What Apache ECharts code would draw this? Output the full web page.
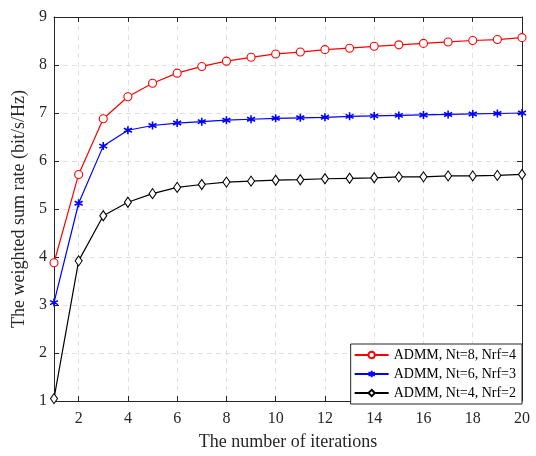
<!DOCTYPE html>
<html>
<head>
<meta charset="utf-8">
<script src="https://cdn.jsdelivr.net/npm/echarts@6/dist/echarts.min.js"></script>
<style>
html,body{margin:0;padding:0;background:#fff;}
#chart{width:536px;height:456px;}
</style>
</head>
<body>
<div id="chart"></div>
<script>
// 迭代次数
let iterations = ['1','2','3','4','5','6','7','8','9','10','11','12','13','14','15','16','17','18','19','20'];
// Nt=8, Nrf=4
let rateA = [3.88,5.72,6.88,7.34,7.62,7.83,7.97,8.08,8.16,8.23,8.27,8.32,8.35,8.39,8.42,8.45,8.48,8.51,8.53,8.57];
// Nt=6, Nrf=3
let rateB = [3.05,5.12,6.31,6.64,6.74,6.79,6.82,6.85,6.87,6.89,6.90,6.91,6.93,6.94,6.95,6.96,6.97,6.98,6.99,7.0];
// Nt=4, Nrf=2
let rateC = [1.05,3.92,4.86,5.14,5.32,5.45,5.51,5.56,5.58,5.60,5.61,5.63,5.64,5.65,5.67,5.67,5.69,5.69,5.70,5.72];
let yTicks = [1,2,3,4,5,6,7,8,9];

let font = "'Liberation Serif','Times New Roman',serif";
let axisColor = '#262626';
let evenIdx = function (index) { return index % 2 === 1; };
let star = 'path://M0,-10L0,10M-8.66,-5L8.66,5M-8.66,5L8.66,-5';

let option = {
    backgroundColor: '#fff',
    animation: false,
    textStyle: {fontFamily: font},
    grid: {left: 54, right: 14, top: 17, bottom: 52},
    legend: {
        orient: 'vertical',
        right: 14,
        bottom: 52,
        backgroundColor: '#fff',
        borderColor: axisColor,
        borderWidth: 1,
        borderRadius: 0,
        padding: [4, 6, 4, 3],
        itemGap: 5,
        itemWidth: 34,
        itemHeight: 8,
        textStyle: {fontFamily: font, fontSize: 14, color: '#000'},
        data: ['ADMM, Nt=8, Nrf=4', 'ADMM, Nt=6, Nrf=3', 'ADMM, Nt=4, Nrf=2']
    },
    xAxis: [{
        type: 'category',
        boundaryGap: false,
        data: iterations,
        name: 'The number of iterations',
        nameLocation: 'middle',
        nameGap: 32,
        nameTextStyle: {fontFamily: font, fontSize: 18, color: axisColor},
        axisLine: {lineStyle: {color: axisColor, width: 1}},
        axisTick: {inside: true, length: 5, interval: evenIdx, lineStyle: {color: axisColor}},
        axisLabel: {interval: evenIdx, fontFamily: font, fontSize: 16, color: axisColor, margin: 10},
        splitLine: {show: true, interval: evenIdx, lineStyle: {color: '#e0e0e0', type: [5, 4]}}
    }, {
        type: 'category',
        position: 'top',
        boundaryGap: false,
        data: iterations,
        axisLine: {lineStyle: {color: axisColor, width: 1}},
        axisTick: {inside: true, length: 5, interval: evenIdx, lineStyle: {color: axisColor}},
        axisLabel: {show: false},
        splitLine: {show: false}
    }],
    yAxis: [{
        type: 'value',
        min: yTicks[0],
        max: yTicks[yTicks.length - 1],
        interval: 1,
        name: 'The weighted sum rate (bit/s/Hz)',
        nameLocation: 'middle',
        nameGap: 24,
        nameTextStyle: {fontFamily: font, fontSize: 18, color: axisColor},
        axisLine: {show: true, lineStyle: {color: axisColor, width: 1}},
        axisTick: {show: true, inside: true, length: 5, lineStyle: {color: axisColor}},
        axisLabel: {fontFamily: font, fontSize: 16, color: axisColor, margin: 7},
        splitLine: {show: true, lineStyle: {color: '#e0e0e0', type: [5, 4]}}
    }, {
        type: 'value',
        position: 'right',
        min: yTicks[0],
        max: yTicks[yTicks.length - 1],
        interval: 1,
        axisLine: {show: true, lineStyle: {color: axisColor, width: 1}},
        axisTick: {show: true, inside: true, length: 5, lineStyle: {color: axisColor}},
        axisLabel: {show: false},
        splitLine: {show: false}
    }],
    series: [{
        name: 'ADMM, Nt=8, Nrf=4',
        type: 'line',
        data: rateA,
        symbol: 'circle',
        symbolSize: 8,
        showSymbol: true,
        lineStyle: {color: '#ff0000', width: 1.2},
        itemStyle: {color: '#fff', borderColor: '#ff0000', borderWidth: 1.1}
    }, {
        name: 'ADMM, Nt=6, Nrf=3',
        type: 'line',
        data: rateB,
        symbol: star,
        symbolSize: 8,
        showSymbol: true,
        lineStyle: {color: '#0000ff', width: 1.2},
        itemStyle: {color: '#0000ff', borderColor: '#0000ff', borderWidth: 1.6}
    }, {
        name: 'ADMM, Nt=4, Nrf=2',
        type: 'line',
        data: rateC,
        symbol: 'diamond',
        symbolSize: [7, 10],
        showSymbol: true,
        lineStyle: {color: '#000', width: 1.2},
        itemStyle: {color: '#fff', borderColor: '#000', borderWidth: 1.1}
    }]
};

let myChart = echarts.init(document.getElementById('chart'));
myChart.setOption(option);
</script>
</body>
</html>
